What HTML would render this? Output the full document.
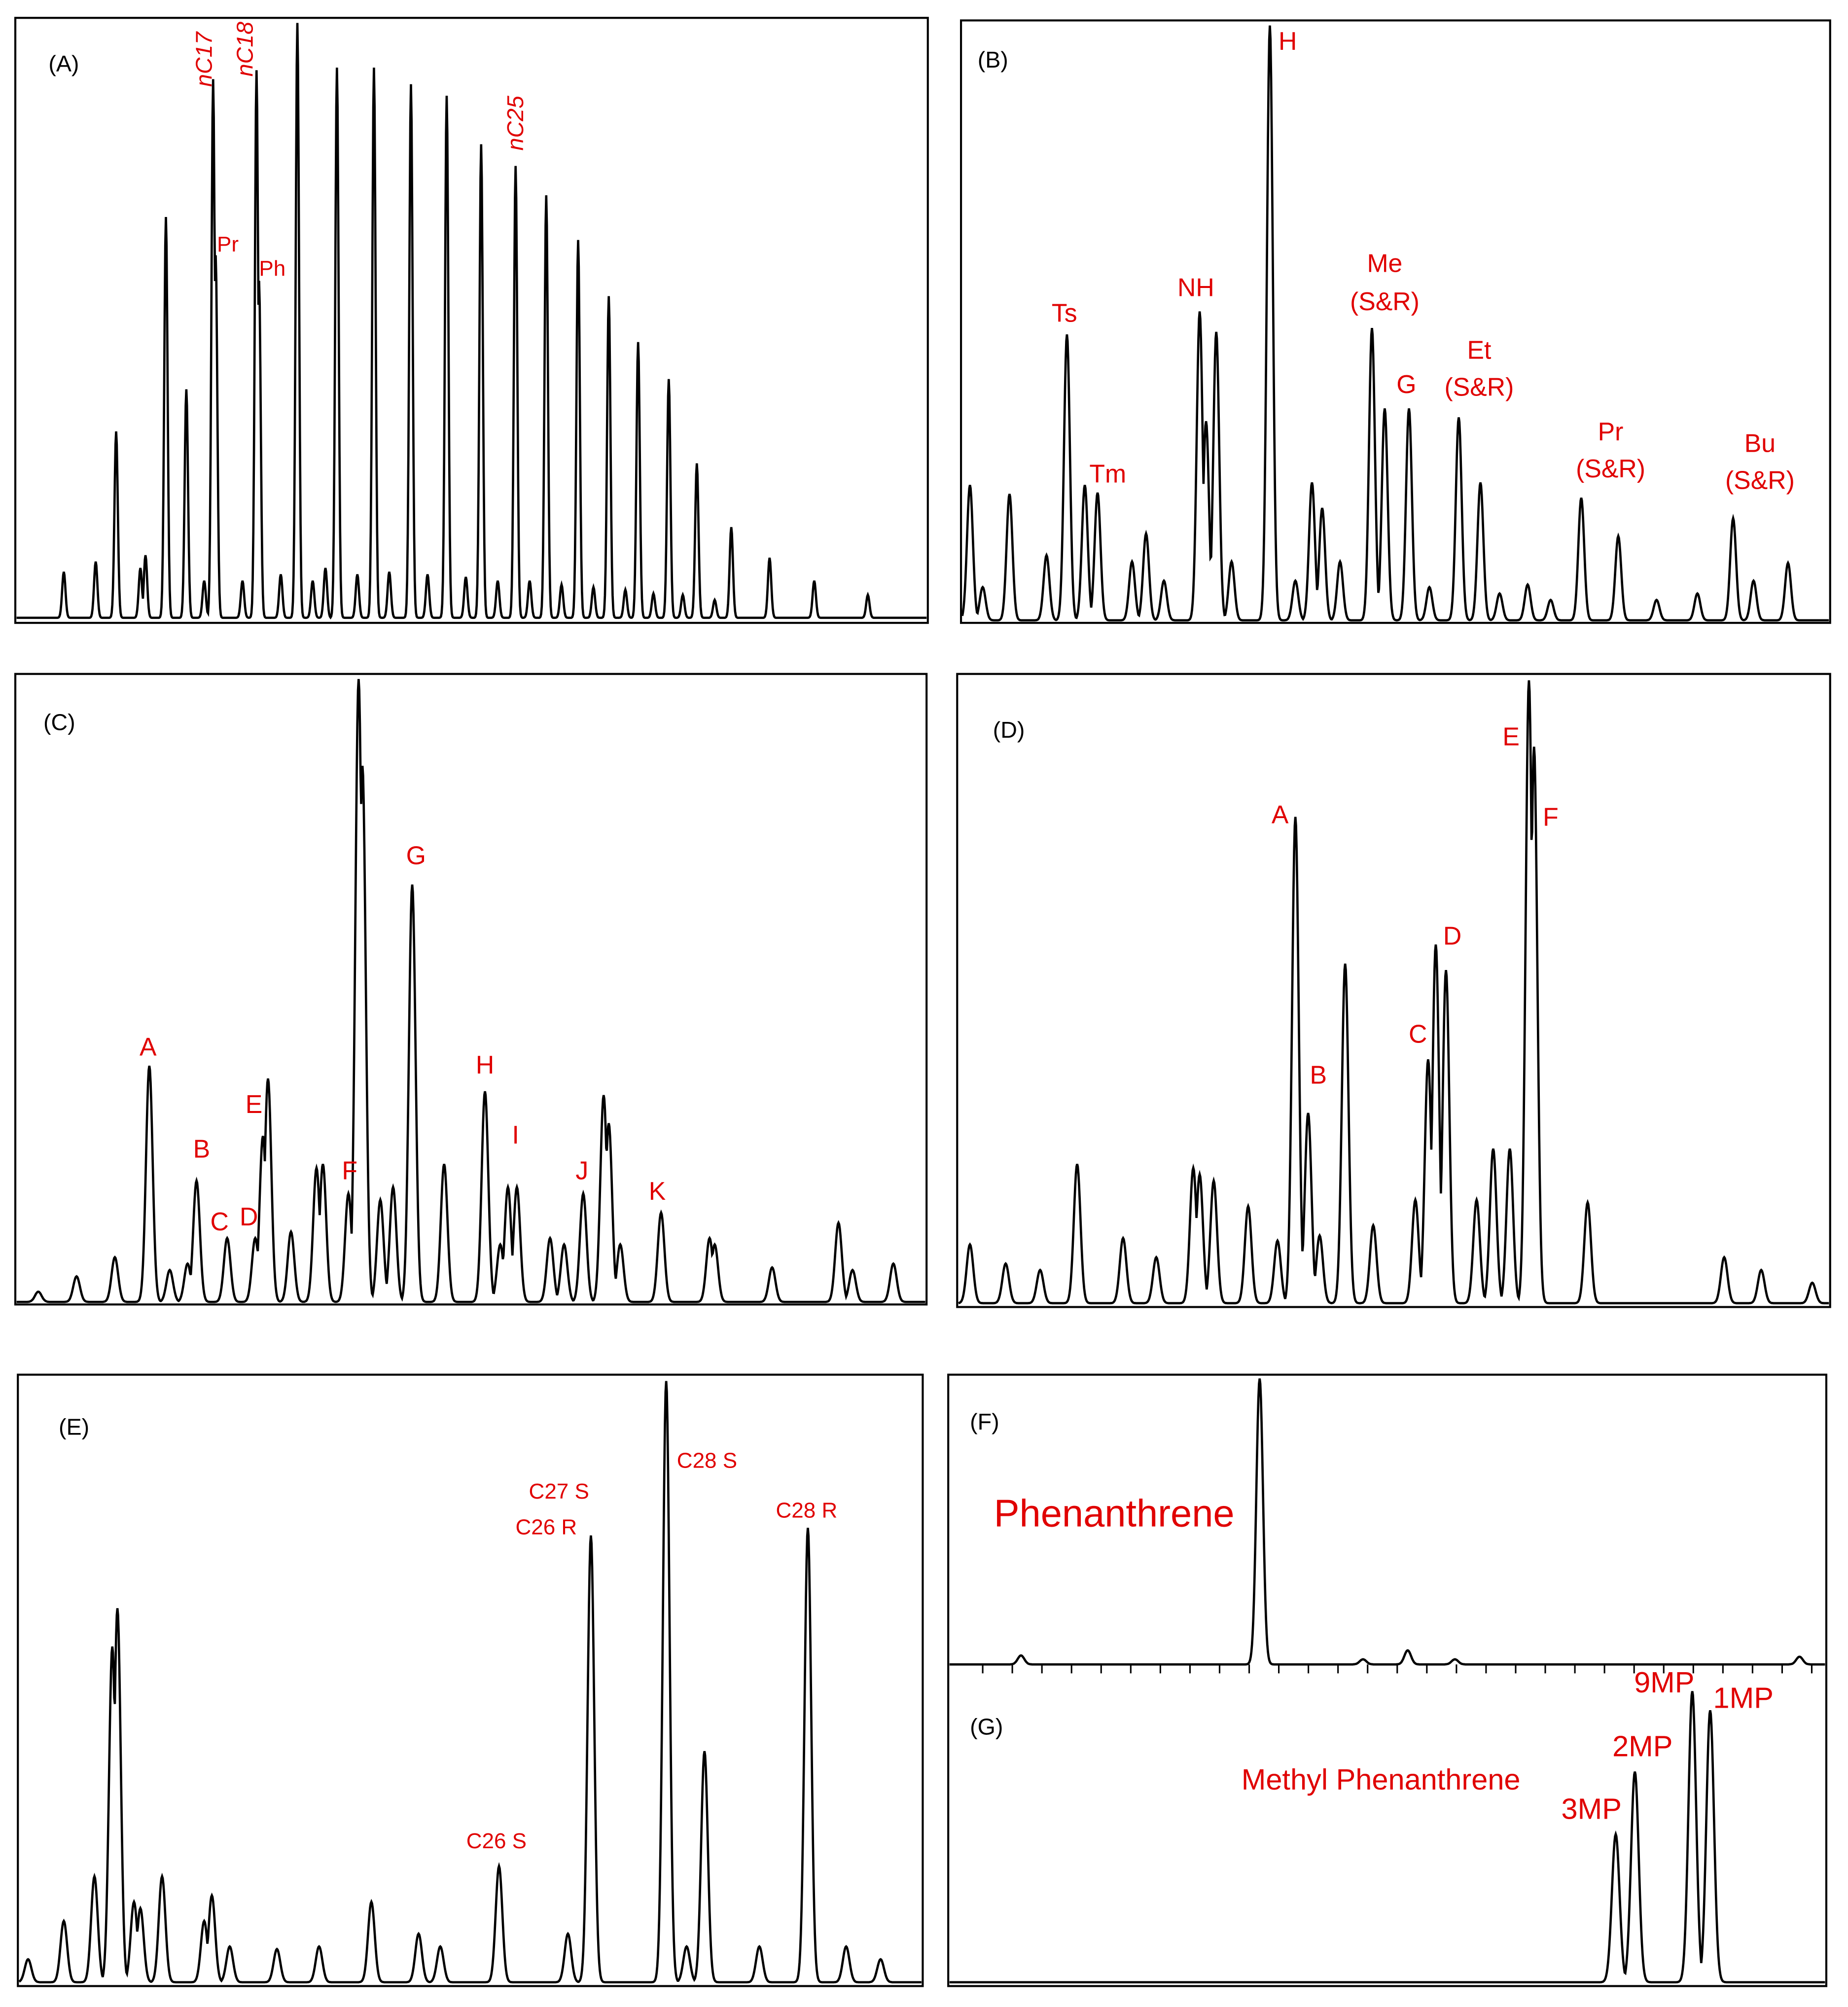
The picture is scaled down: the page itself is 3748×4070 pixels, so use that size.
<!DOCTYPE html>
<html><head><meta charset="utf-8"><style>
html,body{margin:0;padding:0;background:#fff}
svg{display:block}
text{font-family:"Liberation Sans",sans-serif}
.lab{fill:#e00000;font-size:20px}
.pl{fill:#000;font-size:18px}
</style></head><body>
<svg id="fig" width="3748" height="4070" viewBox="0 0 1448 1572.4" preserveAspectRatio="none" xmlns="http://www.w3.org/2000/svg">
<g fill="none" stroke="#000" stroke-width="1.6">
<rect x="12" y="14" width="715" height="474"/>
<rect x="753" y="16" width="681" height="472"/>
<rect x="12" y="528" width="714" height="494"/>
<rect x="750" y="528" width="684" height="496"/>
<rect x="14" y="1077" width="709" height="479"/>
<rect x="743" y="1077" width="688" height="479"/>
</g>
<g id="traces"></g>
<g>
<text class="pl" x="38" y="56">(A)</text>
<text class="pl" x="766" y="53">(B)</text>
<text class="pl" x="34" y="572">(C)</text>
<text class="pl" x="778" y="578">(D)</text>
<text class="pl" x="46" y="1124">(E)</text>
<text class="pl" x="760" y="1120">(F)</text>
<text class="pl" x="760" y="1359">(G)</text>
</g>
<g>
<text class="lab" style="font-style:italic;font-size:18px" transform="translate(166,68) rotate(-90)">nC17</text>
<text class="lab" style="font-style:italic;font-size:18px" transform="translate(198,60) rotate(-90)">nC18</text>
<text class="lab" style="font-style:italic;font-size:18px" transform="translate(410,118) rotate(-90)">nC25</text>
<text class="lab" style="font-size:17px" x="170" y="197">Pr</text>
<text class="lab" style="font-size:17px" x="203" y="216">Ph</text>
<g text-anchor="middle">
<text class="lab" x="834" y="252">Ts</text>
<text class="lab" x="868" y="378">Tm</text>
<text class="lab" x="937" y="232">NH</text>
<text class="lab" x="1009" y="39">H</text>
<text class="lab" x="1085" y="213">Me</text>
<text class="lab" x="1085" y="243">(S&amp;R)</text>
<text class="lab" x="1102" y="308">G</text>
<text class="lab" x="1159" y="281">Et</text>
<text class="lab" x="1159" y="310">(S&amp;R)</text>
<text class="lab" x="1262" y="345">Pr</text>
<text class="lab" x="1262" y="374">(S&amp;R)</text>
<text class="lab" x="1379" y="354">Bu</text>
<text class="lab" x="1379" y="383">(S&amp;R)</text>
<text class="lab" x="116" y="827">A</text>
<text class="lab" x="158" y="907">B</text>
<text class="lab" x="172" y="964">C</text>
<text class="lab" x="195" y="960">D</text>
<text class="lab" x="199" y="872">E</text>
<text class="lab" x="274" y="924">F</text>
<text class="lab" x="326" y="677">G</text>
<text class="lab" x="380" y="841">H</text>
<text class="lab" x="404" y="896">I</text>
<text class="lab" x="456" y="924">J</text>
<text class="lab" x="515" y="940">K</text>
<text class="lab" x="1003" y="645">A</text>
<text class="lab" x="1033" y="849">B</text>
<text class="lab" x="1111" y="817">C</text>
<text class="lab" x="1138" y="740">D</text>
<text class="lab" x="1184" y="584">E</text>
<text class="lab" x="1215" y="647">F</text>
<text class="lab" style="font-size:17px" x="438" y="1174">C27 S</text>
<text class="lab" style="font-size:17px" x="428" y="1202">C26 R</text>
<text class="lab" style="font-size:17px" x="554" y="1150">C28 S</text>
<text class="lab" style="font-size:17px" x="632" y="1189">C28 R</text>
<text class="lab" style="font-size:17px" x="389" y="1448">C26 S</text>
<text class="lab" style="font-size:30px" x="873" y="1196">Phenanthrene</text>
<text class="lab" style="font-size:23px" x="1082" y="1402">Methyl Phenanthrene</text>
<text class="lab" style="font-size:23px" x="1247" y="1425">3MP</text>
<text class="lab" style="font-size:23px" x="1287" y="1376">2MP</text>
<text class="lab" style="font-size:23px" x="1304" y="1326">9MP</text>
<text class="lab" style="font-size:23px" x="1366" y="1338">1MP</text>
</g></g>
</svg>
<script>
// Panel A (n-alkanes)
const aRT=[50,75,91,110,114,130,146,160,167,169,190,201,203,220,233,245,255,264,280,293,305,322,335,350,365,377,390,404,415,428,440,453,465,477,490,500,512,524,535,546,560,573,603,638,680];
const aTop=[448,440,338,445,435,170,305,455,62,200,455,55,220,450,18,455,445,53,450,53,448,66,450,75,452,113,455,130,455,153,458,188,460,232,462,268,465,297,466,363,470,413,437,455,466];
// Panel B (hopanes)
const bRT=[760,770,791,820,836,850,860,887,898,912,940,945,953,965,995,1015,1028,1036,1050,1075,1085,1104,1120,1143,1160,1175,1197,1215,1239,1268,1298,1330,1358,1374,1401];
const bTop=[380,460,387,435,262,380,386,440,418,455,244,330,260,440,20,455,378,398,440,257,320,320,460,327,378,465,458,470,390,420,470,465,406,455,441];
// Panel C (steranes)
const cRT=[30,60,90,117,133,147,154,178,200,206,210,228,248,253,273,281,284,298,308,323,348,380,392,398,405,431,442,457,473,477,486,518,556,560,605,657,668,700];
const cTop=[1012,1000,985,835,995,990,925,970,970,890,845,965,915,912,935,532,600,940,930,693,912,855,975,930,930,970,975,935,858,880,975,950,970,975,993,958,995,990];
// Panel D
const dRT=[760,788,815,844,880,906,935,940,951,978,1001,1015,1025,1034,1054,1076,1109,1119,1125,1133,1157,1170,1183,1198,1202,1244,1351,1380,1420];
const dTop=[975,990,995,912,970,985,915,920,925,945,972,640,872,968,755,960,940,830,740,760,940,900,900,533,585,942,985,995,1005];
// Panel E
const eRT=[22,50,74,88,92,105,110,127,160,166,180,217,250,291,328,345,391,445,463,522,538,552,595,633,663,690];
const eTop=[1535,1505,1470,1290,1260,1490,1495,1470,1505,1485,1525,1527,1525,1490,1515,1525,1462,1515,1203,1082,1525,1372,1525,1197,1525,1535];
// Panel F (phenanthrene)
const fRT=[800,987,1068,1103,1140,1410];
const fTop=[1297,1080,1300,1293,1300,1298];
// Panel G (methylphenanthrenes)
const gRT=[1266,1281,1326,1340];
const gTop=[1437,1388,1325,1340];

const traces=document.getElementById('traces');
function yOf(base,top){return base-top;}
function drawTrace(name,x0,x1,base,rts,tops,sig,ymin){
  let d='';
  for(let x=x0;x<=x1;x+=0.5){
    let s=0;
    for(let i=0;i<rts.length;i++){const a=yOf(base,tops[i]);const t=(x-rts[i])/sig;if(Math.abs(t)<6){const v=a*Math.exp(-0.5*t*t);if(v>s)s=v;}}
    const y=Math.max(base-s,ymin);
    d+=(d?'L':'M')+x.toFixed(1)+' '+y.toFixed(1);
  }
  const p=document.createElementNS('http://www.w3.org/2000/svg','path');
  p.setAttribute('d',d);p.setAttribute('fill','none');p.setAttribute('stroke','#000');p.setAttribute('stroke-width','1.8');
  
  
  traces.appendChild(p);
}
drawTrace('trace-a',13,726,484,aRT,aTop,1.3,15);
drawTrace('trace-b',754,1433,486,bRT,bTop,2.3,17);
drawTrace('trace-c',13,725,1020,cRT,cTop,2.6,529);
drawTrace('trace-d',751,1433,1021,dRT,dTop,2.6,529);
drawTrace('trace-e',15,722,1553,eRT,eTop,2.6,1078);
drawTrace('trace-f',744,1430,1304,fRT,fTop,2.6,1078);
drawTrace('trace-g',744,1430,1553,gRT,gTop,3,1306);
// ticks on F baseline
for(let x=770;x<=1420;x+=23.2){
  const l=document.createElementNS('http://www.w3.org/2000/svg','line');
  l.setAttribute('x1',x);l.setAttribute('x2',x);l.setAttribute('y1',1304);l.setAttribute('y2',1311);
  l.setAttribute('stroke','#000');l.setAttribute('stroke-width','1.2');
  
  
  traces.appendChild(l);
}
</script>
</body></html>
